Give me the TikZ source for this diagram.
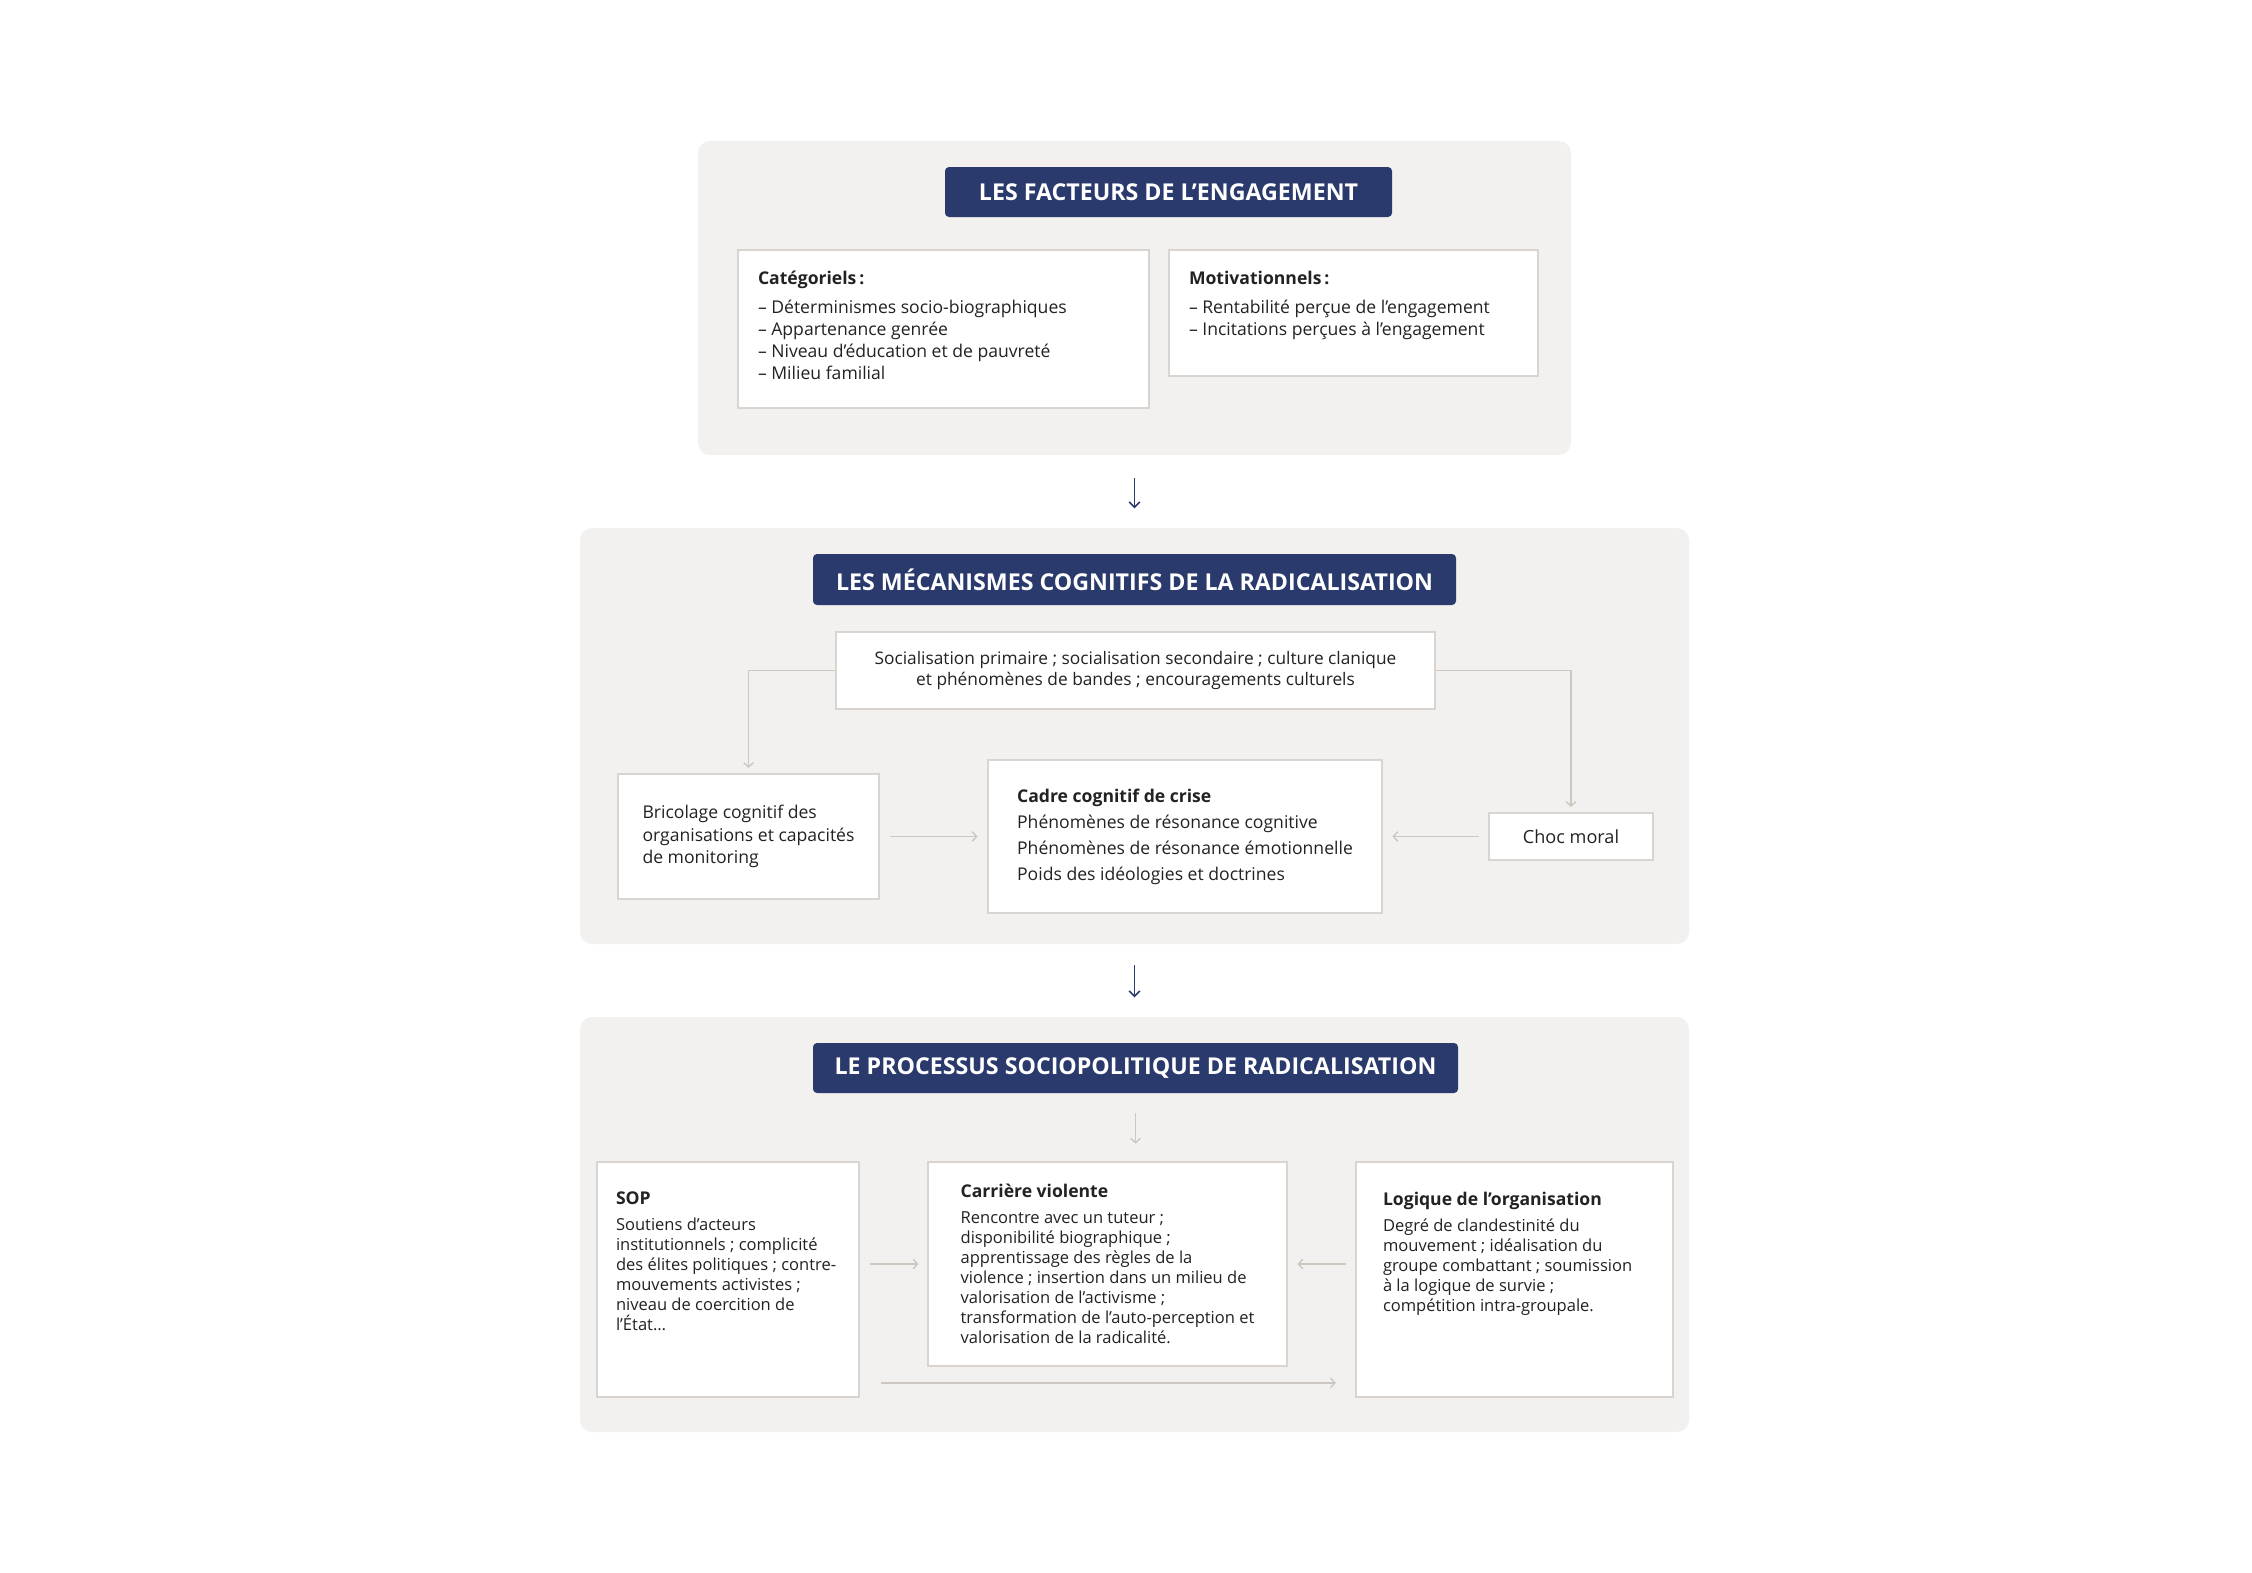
\documentclass[tikz,border=0pt]{standalone}
\usepackage{fontspec}
\setmainfont{Open Sans}
\usetikzlibrary{arrows.meta,positioning,calc}
\definecolor{radNavy}{HTML}{2B3A6D}
\definecolor{radPanel}{HTML}{F2F1EF}
\definecolor{radLine}{HTML}{D9D4CF}
\definecolor{radArrow}{HTML}{CDC7C0}
\definecolor{radText}{HTML}{222222}
\newlength\pxu
\setlength\pxu{0.2mm}
% text block hung from the top of a card: width, height, text
\newcommand\topcard[3]{\makebox[#1][l]{\parbox[c][#2][t]{600\pxu}{\raggedright #3}}}
\tikzset{
  panel/.style={fill=radPanel,rounded corners=2.4mm,inner sep=0pt},
  titlebox/.style={fill=radNavy,rounded corners=0.8mm,text=white,inner sep=0pt,
    font=\fontsize{13.2}{15}\selectfont\bfseries},
  card/.style={draw=radLine,line width=0.9pt,fill=white,inner sep=0pt,text=radText,align=left},
  link/.style={draw=radArrow,line width=0.8pt,-{Straight Barb[length=2.5pt,width=5.5pt]}},
  flow/.style={draw=radNavy,line width=0.9pt,-{Straight Barb[length=3pt,width=6pt]}},
}

\begin{document}
\begin{tikzpicture}[x=0.2mm,y=-0.2mm]
  \useasboundingbox (0,0) rectangle (2252,1572);
  % panels
  \node[panel,minimum width=873\pxu,minimum height=314\pxu] (facteurs) at (1134.5,298) {};
  \node[panel,minimum width=1109\pxu,minimum height=416\pxu] (mecanismes) at (1134.5,736) {};
  \node[panel,minimum width=1109\pxu,minimum height=415\pxu] (processus) at (1134.5,1224.5) {};
  % titles
  \node[titlebox,minimum width=447\pxu,minimum height=50\pxu] (titreF) at (1168.5,192) {LES FACTEURS DE L'ENGAGEMENT};
  \node[titlebox,minimum width=643\pxu,minimum height=51\pxu] (titreM) at (1134.5,579.5) {LES MÉCANISMES COGNITIFS DE LA RADICALISATION};
  \node[titlebox,minimum width=645\pxu,minimum height=50\pxu] (titreP) at (1135.5,1068) {LE PROCESSUS SOCIOPOLITIQUE DE RADICALISATION};
  % engagement
  \node[card,minimum width=411\pxu,minimum height=158\pxu,font=\fontsize{10}{12.5}\selectfont] (categoriels) at (943.5,329)
    {\topcard{371\pxu}{116\pxu}{{\bfseries Catégoriels\,:}\\[4pt]-- Déterminismes socio-biographiques\\-- Appartenance genrée\\
     -- Niveau d'éducation et de pauvreté\\-- Milieu familial}};
  \node[card,minimum width=369\pxu,minimum height=126\pxu,font=\fontsize{10}{12.5}\selectfont] (motivationnels) at (1353.5,313)
    {\topcard{329\pxu}{84\pxu}{{\bfseries Motivationnels\,:}\\[4pt]-- Rentabilité perçue de l'engagement\\
     -- Incitations perçues à l'engagement}};
  % cognitive mechanisms
  \node[card,align=center,minimum width=599\pxu,minimum height=77\pxu,
    font=\fontsize{9.85}{12.3}\selectfont] (socialisation) at (1135.5,670.5)
    {Socialisation primaire ; socialisation secondaire ; culture clanique\\et phénomènes de bandes ; encouragements culturels};
  \node[card,minimum width=261\pxu,minimum height=125\pxu,
    font=\fontsize{10}{12.6}\selectfont] (bricolage) at (748.5,836.5)
    {Bricolage cognitif des\\organisations et capacités\\de monitoring};
  \node[card,minimum width=394\pxu,minimum height=153\pxu,
    font=\fontsize{10}{14.8}\selectfont] (cadre) at (1185,836.5)
    {{\bfseries Cadre cognitif de crise}\\Phénomènes de résonance cognitive\\
     Phénomènes de résonance émotionnelle\\Poids des idéologies et doctrines};
  \node[card,align=center,minimum width=164\pxu,minimum height=47\pxu,
    font=\fontsize{10.3}{12}\selectfont] (choc) at (1571,836.5) {Choc moral};
  % sociopolitical process
  \node[card,minimum width=262\pxu,minimum height=235\pxu,font=\fontsize{9.4}{11.4}\selectfont] (sop) at (728,1279.5)
    {\topcard{224\pxu}{175\pxu}{{\fontsize{10}{11.4}\selectfont\bfseries SOP}\\[3.4pt]
     Soutiens d'acteurs\\institutionnels ; complicité\\des élites politiques ; contre-\\
     mouvements activistes ;\\niveau de coercition de\\l'État\dots}};
  \node[card,minimum width=359\pxu,minimum height=204\pxu,
    font=\fontsize{9.4}{11.4}\selectfont] (carriere) at (1107.5,1264)
    {{\fontsize{10}{11.4}\selectfont\bfseries Carrière violente}\\[3.4pt]
     Rencontre avec un tuteur ;\\disponibilité biographique ;\\apprentissage des règles de la\\
     violence ; insertion dans un milieu de\\valorisation de l'activisme ;\\
     transformation de l'auto-perception et\\valorisation de la radicalité.};
  \node[card,minimum width=317\pxu,minimum height=235\pxu,font=\fontsize{9.4}{11.4}\selectfont] (logique) at (1514.5,1279.5)
    {\topcard{263\pxu}{175\pxu}{{\fontsize{10}{11.4}\selectfont\bfseries Logique de l'organisation}\\[3.4pt]
     Degré de clandestinité du\\mouvement ; idéalisation du\\groupe combattant ; soumission\\
     à la logique de survie ;\\compétition intra-groupale.}};
  % arrows between panels
  \draw[flow,shorten <=13pt,shorten >=11pt] (facteurs.south) -- (mecanismes.north);
  \draw[flow,shorten <=12pt,shorten >=11pt] (mecanismes.south) -- (processus.north);
  % links
  \draw[link,shorten >=3pt] (socialisation.west) -| (bricolage.north);
  \draw[link,shorten >=3pt] (socialisation.east) -| (choc.north);
  \draw[link,shorten <=6pt,shorten >=5.5pt] (bricolage) -- (cadre);
  \draw[link,shorten <=5.5pt,shorten >=5.5pt] (choc) -- (cadre);
  \draw[link,shorten <=11pt,shorten >=10pt] (titreP.south) -- (titreP.south |- carriere.north);
  \draw[link,shorten <=6pt,shorten >=5pt] (sop.east |- carriere.west) -- (carriere.west);
  \draw[link,shorten <=5.5pt,shorten >=5.5pt] (logique.west |- carriere.east) -- (carriere.east);
  \coordinate (bas) at ([yshift=8.5pt]sop.south east);
  \draw[link,shorten <=12pt,shorten >=11pt] (bas) -- (bas -| logique.west);
\end{tikzpicture}
\end{document}
